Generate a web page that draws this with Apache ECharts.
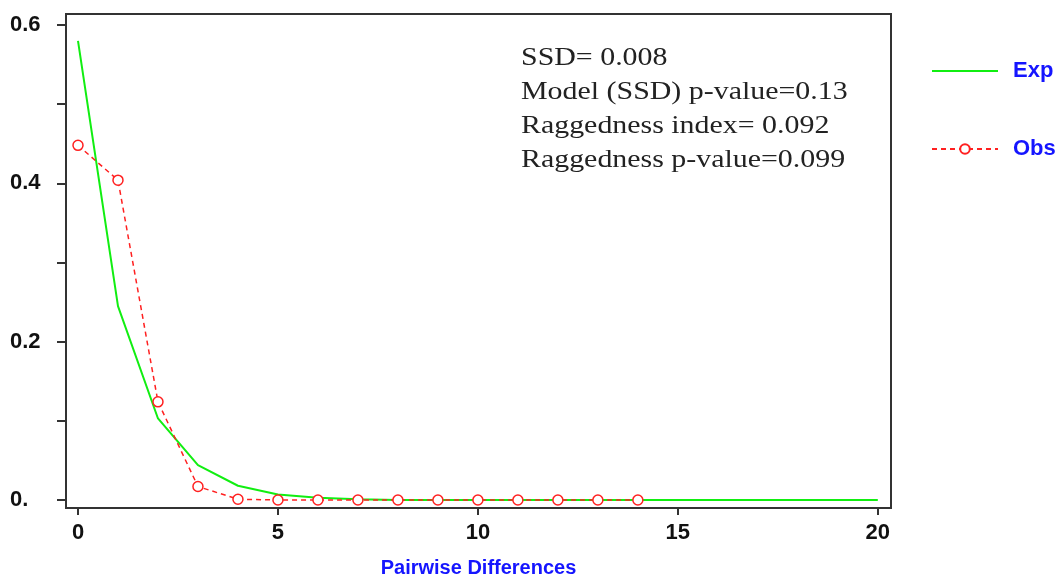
<!DOCTYPE html>
<html>
<head>
<meta charset="utf-8">
<script src="https://cdn.jsdelivr.net/npm/echarts@6/dist/echarts.min.js"></script>
<style>
  html, body { margin: 0; padding: 0; background: #fff; }
  #chart { width: 1059px; height: 579px; }
</style>
</head>
<body>
<div id="chart"></div>
<script>
// mismatch distribution: expected vs observed
const expX = [0, 1, 2, 3, 4, 5, 6, 7, 8, 9, 10, 11, 12, 13, 14, 15, 16, 17, 18, 19, 20];
const expFreq = [0.58, 0.245, 0.103, 0.044, 0.018, 0.007, 0.003, 0.001, 0, 0, 0, 0, 0, 0, 0, 0, 0, 0, 0, 0, 0];
const obsX = [0, 1, 2, 3, 4, 5, 6, 7, 8, 9, 10, 11, 12, 13, 14];
const obsFreq = [0.448, 0.404, 0.124, 0.017, 0.001, 0, 0, 0, 0, 0, 0, 0, 0, 0, 0];
const xLabels = [0, 5, 10, 15, 20];
const yLabels = [0, 0.2, 0.4, 0.6];
const yTicks = [0, 0.1, 0.2, 0.3, 0.4, 0.5, 0.6];
const statLines = [
  'SSD= 0.008',
  'Model (SSD) p-value=0.13',
  'Raggedness index= 0.092',
  'Raggedness p-value=0.099'
];

const pairs = (xs, ys) => xs.map((x, i) => [x, ys[i]]);

const chart = echarts.init(document.getElementById('chart'));

const option = {
  animation: false,
  backgroundColor: '#fff',
  grid: {
    left: 66, top: 14, right: 168, bottom: 71,
    show: true, borderColor: '#333', borderWidth: 2,
    outerBoundsMode: 'none'
  },
  legend: {
    orient: 'vertical',
    left: 926,
    top: 55,
    itemWidth: 66,
    itemHeight: 12,
    itemGap: 56,
    textStyle: {
      color: '#1515ff', fontWeight: 'bold', fontSize: 22,
      fontFamily: 'Liberation Sans', padding: [0, 0, 0, 10]
    },
    data: [{ name: 'Exp', itemStyle: { opacity: 0 } }, 'Obs']
  },
  xAxis: {
    type: 'value',
    min: -0.3, max: 20.33,
    name: 'Pairwise Differences',
    nameLocation: 'middle',
    nameGap: 50,
    nameTextStyle: {
      color: '#1515ff', fontWeight: 'bold', fontSize: 20, fontFamily: 'Liberation Sans'
    },
    splitLine: { show: false },
    axisLine: { onZero: false, lineStyle: { color: '#333', width: 2 } },
    axisTick: { customValues: xLabels, length: 7, lineStyle: { color: '#333', width: 2 } },
    axisLabel: {
      customValues: xLabels, margin: 14,
      color: '#111', fontWeight: 'bold', fontSize: 22, fontFamily: 'Liberation Sans'
    }
  },
  yAxis: {
    type: 'value',
    min: -0.0101, max: 0.6139,
    splitLine: { show: false },
    axisLine: { onZero: false, lineStyle: { color: '#333', width: 2 } },
    axisTick: { customValues: yTicks, length: 9, lineStyle: { color: '#333', width: 2 } },
    axisLabel: {
      customValues: yLabels, margin: 56, align: 'left',
      color: '#111', fontWeight: 'bold', fontSize: 22, fontFamily: 'Liberation Sans',
      formatter: v => (v === 0 ? '0.' : v.toFixed(1))
    }
  },
  graphic: [{
    type: 'text',
    x: 521,
    y: 41,
    scaleX: 1.15,
    style: {
      text: statLines.join('\n'),
      fill: '#222',
      font: '26px "Liberation Serif"',
      lineHeight: 34
    }
  }],
  series: [
    {
      name: 'Exp',
      type: 'line',
      data: pairs(expX, expFreq),
      symbol: 'none',
      lineStyle: { color: '#11ee11', width: 2 },
      itemStyle: { color: '#11ee11' },
      z: 2
    },
    {
      name: 'Obs',
      type: 'line',
      data: pairs(obsX, obsFreq),
      symbol: 'circle',
      symbolSize: 10,
      lineStyle: { color: '#ff2020', width: 1.5, type: [5, 4] },
      itemStyle: { color: '#fff', borderColor: '#ff2020', borderWidth: 1.5 },
      z: 3
    }
  ]
};

chart.setOption(option);
</script>
</body>
</html>
